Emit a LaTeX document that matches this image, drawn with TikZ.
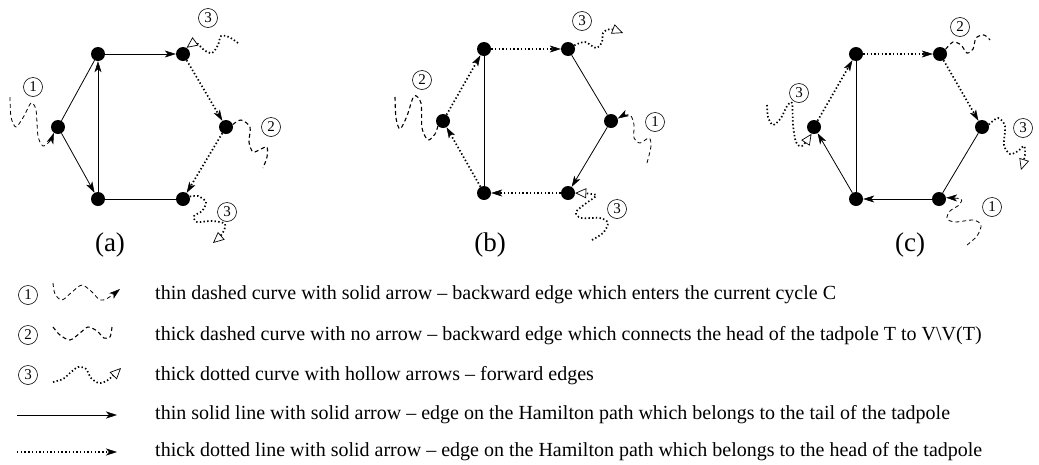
\documentclass[tikz,border=0pt]{standalone}
\usepackage{fontspec}
\setmainfont{Liberation Serif}
\usetikzlibrary{arrows.meta}

\tikzset{
  vtx/.style={circle,fill=black,inner sep=0pt,minimum size=14pt},
  num/.style={circle,draw,line width=0.6pt,inner sep=0pt,minimum size=19pt,
    font=\fontsize{15}{15}\selectfont},
  caption/.style={font=\fontsize{27}{27}\selectfont},
  legtext/.style={anchor=west,inner sep=0pt,font=\fontsize{20}{20}\selectfont},
  solidtip/.tip={Stealth[length=11pt,width=7pt,inset=3pt,line width=0.5pt]},
  hollowtip/.tip={Triangle[open,length=11pt,width=10pt,line width=0.7pt,fill=white]},
  tailline/.style={line width=0.8pt},
  tailedge/.style={tailline,-solidtip},
  headline/.style={line width=1.7pt,dash pattern=on 1.4pt off 2.3pt},
  headedge/.style={headline,-solidtip},
  backin/.style={line width=0.8pt,dash pattern=on 4pt off 3pt,-solidtip},
  backout/.style={line width=1.1pt,dash pattern=on 4pt off 3pt},
  fwd/.style={line width=1.7pt,dash pattern=on 1.4pt off 2.3pt,-hollowtip},
}

\begin{document}
\begin{tikzpicture}[x=1pt,y=-1pt]
\useasboundingbox (0,0) rectangle (1039,464);

% ---------- graph (a) ----------
\node[vtx] (A1) at (98,54) {};
\node[vtx] (A2) at (183,54) {};
\node[vtx] (A3) at (226,127) {};
\node[vtx] (A4) at (183,199) {};
\node[vtx] (A5) at (98,199) {};
\node[vtx] (A6) at (58,127) {};
\draw[tailline] (A6) -- (A1);
\draw[tailedge] (A6) -- (A5);
\draw[tailedge] (A5) -- (A1);
\draw[tailedge] (A1) -- (A2);
\draw[headedge] (A2) -- (A3);
\draw[headedge] (A3) -- (A4);
\draw[tailline] (A5) -- (A4);
\draw[backin] plot[smooth] coordinates {(10,97) (11,117) (16,127) (24,116) (31,103) (36,110) (38,136) (43,146) (50,141) (A6.-125)};
\draw[fwd] plot[smooth] coordinates {(238,43) (229,37) (221,36) (218,45) (212,53) (204,50) (196,43) (A2.60)};
\draw[backout] plot[smooth] coordinates {(A3.20) (241,120) (250,127) (249,142) (253,152) (261,149) (267,147) (267,157) (263,168)};
\draw[fwd] plot[smooth] coordinates {(A4.20) (198,196) (206,202) (202,211) (194,216) (197,222) (212,221) (225,224) (222,234) (213,243)};
\node[num] (a1) at (33,87) {1};
\node[num] (a3t) at (208,18) {3};
\node[num] (a2) at (271,127) {2};
\node[num] (a3b) at (227,212) {3};
\node[caption] (capa) at (110,245) {(a)};

% ---------- graph (b) ----------
\node[vtx] (B1) at (484,49) {};
\node[vtx] (B2) at (568,49) {};
\node[vtx] (B3) at (611,121) {};
\node[vtx] (B4) at (568,193) {};
\node[vtx] (B5) at (484,193) {};
\node[vtx] (B6) at (443,121) {};
\draw[headedge] (B6) -- (B1);
\draw[headedge] (B1) -- (B2);
\draw[tailline] (B2) -- (B3);
\draw[tailedge] (B3) -- (B4);
\draw[headedge] (B4) -- (B5);
\draw[headedge] (B5) -- (B6);
\draw[tailline] (B1) -- (B5);
\draw[backout] plot[smooth] coordinates {(395,97) (396,118) (400,129) (407,116) (414,96) (421,103) (422,128) (428,140) (435,134) (B6.-135)};
\draw[fwd] plot[smooth] coordinates {(B2.30) (585,42) (596,48) (602,42) (603,33) (610,29) (623,33)};
\draw[backin] plot[smooth] coordinates {(647,163) (651,146) (649,138) (640,143) (634,138) (634,125) (631,116) (625,115) (B3.20)};
\draw[fwd] plot[smooth] coordinates {(592,240) (603,233) (608,223) (600,218) (581,218) (576,212) (585,204) (596,195) (B4.0)};
\node[num] (b2) at (422,80) {2};
\node[num] (b3t) at (582,21) {3};
\node[num] (b1) at (655,122) {1};
\node[num] (b3b) at (617,209) {3};
\node[caption] (capb) at (490,245) {(b)};

% ---------- graph (c) ----------
\node[vtx] (C1) at (856,54) {};
\node[vtx] (C2) at (940,54) {};
\node[vtx] (C3) at (982,127) {};
\node[vtx] (C4) at (939,199) {};
\node[vtx] (C5) at (856,199) {};
\node[vtx] (C6) at (814,127) {};
\draw[headedge] (C6) -- (C1);
\draw[headedge] (C1) -- (C2);
\draw[headedge] (C2) -- (C3);
\draw[tailline] (C3) -- (C4);
\draw[tailedge] (C4) -- (C5);
\draw[tailedge] (C5) -- (C6);
\draw[tailline] (C1) -- (C5);
\draw[backout] plot[smooth] coordinates {(C2.40) (953,42) (961,45) (967,53) (973,49) (976,38) (984,35) (990,40)};
\draw[fwd] plot[smooth] coordinates {(C3.20) (998,118) (1005,126) (1004,145) (1010,154) (1018,151) (1024,146) (1025,155) (1021,170)};
\draw[backin] plot[smooth] coordinates {(967,245) (977,236) (981,225) (973,220) (956,222) (947,219) (950,211) (959,205) (961,199) (C4.10)};
\draw[fwd] plot[smooth] coordinates {(767,105) (768,117) (773,125) (781,118) (787,106) (792,103) (793,125) (796,142) (802,146) (C6.-110)};
\node[num] (c2) at (960,27) {2};
\node[num] (c3r) at (1023,128) {3};
\node[num] (c1) at (992,207) {1};
\node[num] (c3l) at (799,93) {3};
\node[caption] (capc) at (910,245) {(c)};

% ---------- legend ----------
\node[num] (k1) at (28,295) {1};
\node[num] (k2) at (28,335) {2};
\node[num] (k3) at (28,375) {3};
\draw[backin] plot[smooth] coordinates {(53,283) (55,294) (62,300) (72,292) (82,285) (92,292) (100,300) (108,298) (120,289)};
\draw[backout] plot[smooth] coordinates {(53,327) (60,335) (70,340) (80,333) (88,327) (97,331) (104,338) (110,337) (112,327)};
\draw[fwd] plot[smooth] coordinates {(53,382) (63,379) (70,373) (78,367) (86,369) (91,378) (99,383) (108,380) (121,368)};
\coordinate (s4) at (17,415);
\coordinate (e4) at (117,415);
\coordinate (s5) at (17,452);
\coordinate (e5) at (117,452);
\draw[tailedge] (s4) -- (e4);
\draw[headedge] (s5) -- (e5);
\node[legtext] (t1) at (155,295) {thin dashed curve with solid arrow -- backward edge which enters the current cycle C};
\node[legtext] (t2) at (155,336) {thick dashed curve with no arrow -- backward edge which connects the head of the tadpole T to V\textbackslash V(T)};
\node[legtext] (t3) at (155,376) {thick dotted curve with hollow arrows -- forward edges};
\node[legtext] (t4) at (155,415) {thin solid line with solid arrow -- edge on the Hamilton path which belongs to the tail of the tadpole};
\node[legtext] (t5) at (155,452) {thick dotted line with solid arrow -- edge on the Hamilton path which belongs to the head of the tadpole};
\end{tikzpicture}
\end{document}
